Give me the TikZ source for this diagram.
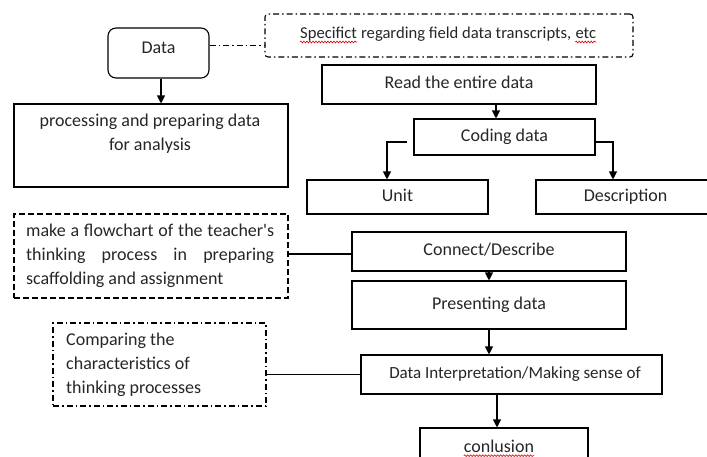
\documentclass[tikz,border=0pt]{standalone}
\usepackage{fontspec}
\setmainfont{Carlito}[Ligatures=TeXOff]
\usetikzlibrary{arrows.meta,decorations.pathmorphing}
\begin{document}
\begin{tikzpicture}[x=1pt, y=-1pt,
  font=\fontsize{18}{24}\selectfont,
  box/.style={draw, line width=1.1pt, inner sep=0pt, text=black!85, text height=12.5pt, text depth=4pt},
  frame/.style={draw, line width=1.1pt, inner sep=0pt},
  note/.style={frame, dash pattern=on 6pt off 3pt},
  dashdot/.style={dash pattern=on 6pt off 3pt on 1.5pt off 3pt},
  txt/.style={inner sep=0pt, text=black!85},
  arr/.style={-{Triangle[width=8pt,length=8pt]}, line width=1.1pt},
  link/.style={line width=1.1pt},
  spellwave/.style={draw=red!85!black, line width=0.6pt, decorate,
    decoration={snake, amplitude=0.9pt, segment length=3pt}}]
\useasboundingbox (0,0) rectangle (707,456);
\clip (0,0) rectangle (707,456);

% left column
\node[frame, rounded corners=8pt, minimum width=101pt, minimum height=50pt] (data) at (158.5,53) {};
\node[txt] (datat) at (158.5,48) {Data};
\node[frame, minimum width=274pt, minimum height=83pt] (proc) at (151,145.5) {};
\node[txt, align=center] (proct) at (150,134) {processing and preparing data\\for analysis};

% source note, its text set in three pieces so the marked words can be underlined
\node[frame, dashdot, rounded corners=3pt, minimum width=368pt, minimum height=43pt] (spec) at (449,35.5) {};
\begin{scope}[font=\fontsize{16.6}{20}\selectfont]
\node[txt, anchor=base west] (sp1) at (300,38.5) {Specifict};
\node[txt, anchor=base west] (sp2) at (sp1.base east) {\strut\ regarding field data transcripts,\ \null};
\node[txt, anchor=base west] (sp3) at (sp2.base east) {etc};
\end{scope}

% coding chain
\node[box, minimum width=274pt, minimum height=39pt] (read) at (459,84.5) {Read the entire data};
\node[box, minimum width=181pt, minimum height=36pt] (coding) at (504.5,137) {Coding data};
\node[box, minimum width=181pt, minimum height=34pt] (unit) at (397.5,197) {Unit};
\node[box, minimum width=179pt, minimum height=34pt] (desc) at (625.5,197) {Description};

% notes on the left
\node[note, minimum width=274pt, minimum height=84pt] (flow) at (151,256) {};
\node[txt, align=left, anchor=west] (flowt) at (26,256)
  {\makebox[248pt][s]{make a flowchart of the teacher's}\\
   \makebox[248pt][s]{thinking process in preparing}\\
   scaffolding and assignment};
\node[frame, dashdot, minimum width=213pt, minimum height=83pt] (comp) at (159.5,364.5) {};
\node[txt, align=left, anchor=west] (compt) at (66,365)
  {Comparing the\\characteristics of\\thinking processes};

% main chain
\node[box, minimum width=274pt, minimum height=39pt] (conn) at (489,251.5) {Connect/Describe};
\node[box, minimum width=274pt, minimum height=48pt] (pres) at (489,305) {Presenting data};
\node[frame, minimum width=301pt, minimum height=39pt] (interp) at (511.5,374.5) {};
\node[txt, font=\fontsize{17}{20}\selectfont] (interpt) at (515,374.5) {Data Interpretation/Making sense of};
\node[frame, minimum width=168pt, minimum height=38pt] (concl) at (504,447) {};
\node[txt] (conclt) at (499,446) {conlusion};

% spelling marks
\draw[spellwave] ([yshift=-3.5pt]sp1.base west) -- ([yshift=-3.5pt]sp1.base east);
\draw[spellwave] ([yshift=-3.5pt]sp3.base west) -- ([yshift=-3.5pt]sp3.base east);
\draw[spellwave] ([yshift=-3.5pt]conclt.base west) -- ([yshift=-3.5pt]conclt.base east);

% connectors
\coordinate (d1) at ([xshift=2.5pt]data.south);
\draw[arr] (d1) -- (d1 |- proc.north);
\coordinate (s1) at ([yshift=8pt]data.east);
\draw[link, dashdot, line width=0.9pt] (s1) -- (s1 -| spec.west);
\coordinate (c1) at ([xshift=-8.5pt]coding.north);
\draw[arr] (c1 |- read.south) -- (c1);
\coordinate (cu) at ([xshift=-6pt,yshift=-5pt]coding.west);
\coordinate (ut) at ([xshift=-10.5pt]unit.north);
\draw[arr] (cu) -| (ut);
\coordinate (cd) at ([yshift=-5pt]coding.east);
\coordinate (dt) at ([xshift=-12.5pt]desc.north);
\draw[arr] (cd) -| (dt);
\coordinate (f1) at ([yshift=2pt]flow.east);
\draw[link] (f1) -- (f1 -| conn.west);
\draw[arr] (conn.south) -- (pres.north);
\draw[arr] (pres.south) -- (pres.south |- interp.north);
\draw[link] (interp.west -| comp.east) -- (interp.west);
\coordinate (k1) at ([xshift=-7pt]concl.north);
\draw[arr] (k1 |- interp.south) -- (k1);
\end{tikzpicture}
\end{document}
